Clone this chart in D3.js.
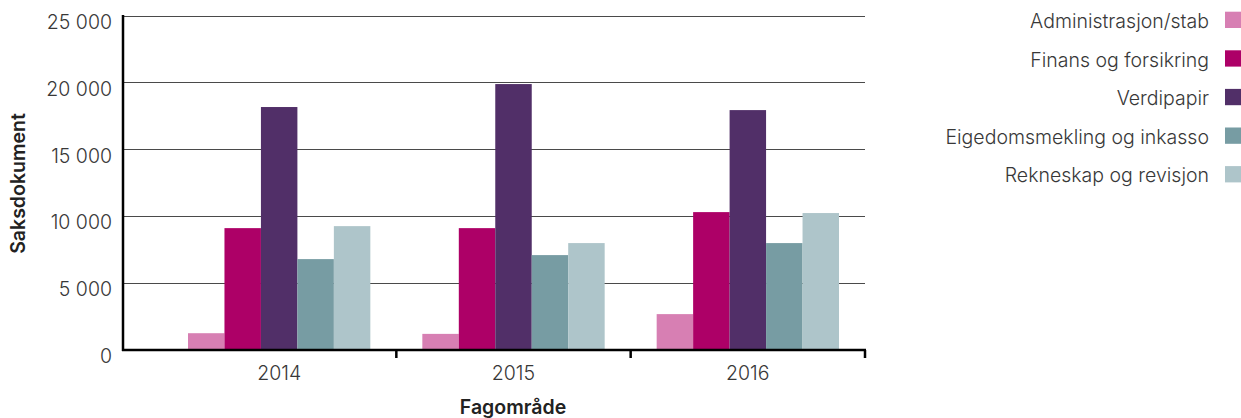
<!DOCTYPE html>
<html><head><meta charset="utf-8">
<script src="https://cdn.jsdelivr.net/npm/d3@7"></script>
<style>body{margin:0;background:#fff}svg{display:block}text{font-family:Inter,"Noto Sans",sans-serif}</style>
</head><body><svg id="c" width="1241" height="418"></svg>
<script>
const categories = ["2014","2015","2016"];
const seriesNames = ["Administrasjon/stab","Finans og forsikring","Verdipapir","Eigedomsmekling og inkasso","Rekneskap og revisjon"];
const administrasjon = [1220,1170,2650];
const finans = [9090,9090,10290];
const verdipapir = [18160,19880,17930];
const eigedom = [6770,7070,7970];
const rekneskap = [9240,7970,10220];
const yTicks = [0,5000,10000,15000,20000,25000];
const yTickLabels = ["0","5 000","10 000","15 000","20 000","25 000"];
const colors = ["#d77fb3","#ad0067","#512f68","#779ca3","#aec5ca"];
const seriesValues = [administrasjon, finans, verdipapir, eigedom, rekneskap];

const svg = d3.select("#c");
const x0 = d3.scaleBand().domain(categories).range([162,865]).paddingInner(0).paddingOuter(0);
const x1 = d3.scaleBand().domain(seriesNames).range([26, x0.bandwidth()-26]);
const y = d3.scaleLinear().domain([0,25000]).range([349.5,15.7]);

// grid
svg.append("g").selectAll("line").data(yTicks.filter(d=>d>0)).join("line")
  .attr("x1",123).attr("x2",865).attr("y1",d=>Math.round(y(d))+0.5).attr("y2",d=>Math.round(y(d))+0.5)
  .attr("stroke","#4a4a4a").attr("stroke-width",1);

// bars
categories.forEach((c,i)=>{
  svg.append("g").selectAll("rect").data(seriesNames).join("rect")
    .attr("x",s=>x0(c)+x1(s)).attr("width",x1.bandwidth())
    .attr("y",(s,k)=>y(seriesValues[k][i])).attr("height",(s,k)=>y(0)-y(seriesValues[k][i]))
    .attr("fill",(s,k)=>colors[k]);
});

// y axis labels
svg.append("g").selectAll("text").data(yTicks).join("text")
  .attr("x",112).attr("y",d=>y(d)+13.3).attr("text-anchor","end")
  .attr("font-size",19.5).attr("font-weight",300).attr("fill","#383838").text((d,i)=>yTickLabels[i]);

// axes lines
svg.append("line").attr("x1",123).attr("x2",123).attr("y1",15).attr("y2",351).attr("stroke","#000").attr("stroke-width",2.5);
svg.append("line").attr("x1",122).attr("x2",866).attr("y1",350).attr("y2",350).attr("stroke","#000").attr("stroke-width",2.5);
svg.append("g").selectAll("line").data(categories).join("line")
  .attr("x1",d=>x0(d)+x0.bandwidth()).attr("x2",d=>x0(d)+x0.bandwidth())
  .attr("y1",350).attr("y2",358).attr("stroke","#000").attr("stroke-width",2.5);

// x labels
svg.append("g").selectAll("text").data(categories).join("text")
  .attr("x",d=>x0(d)+x0.bandwidth()/2).attr("y",380).attr("text-anchor","middle")
  .attr("font-size",19.5).attr("font-weight",300).attr("fill","#383838").text(d=>d);

svg.append("text").attr("x",513).attr("y",414).attr("text-anchor","middle")
  .attr("font-size",19.5).attr("font-weight",600).attr("fill","#222").text("Fagområde");
svg.append("text").attr("transform","translate(25,183.5) rotate(-90)").attr("text-anchor","middle")
  .attr("font-size",19.5).attr("font-weight",600).attr("fill","#222").text("Saksdokument");

// legend
const lg = svg.append("g").selectAll("g").data(seriesNames).join("g")
  .attr("transform",(d,i)=>`translate(0,${28+i*38.6})`);
lg.append("rect").attr("x",1225).attr("y",-16.3).attr("width",16).attr("height",16.3).attr("fill",(d,i)=>colors[i]);
lg.append("text").attr("x",1209).attr("y",0).attr("text-anchor","end")
  .attr("font-size",19.5).attr("font-weight",300).attr("fill","#383838").text(d=>d);
</script></body></html>
